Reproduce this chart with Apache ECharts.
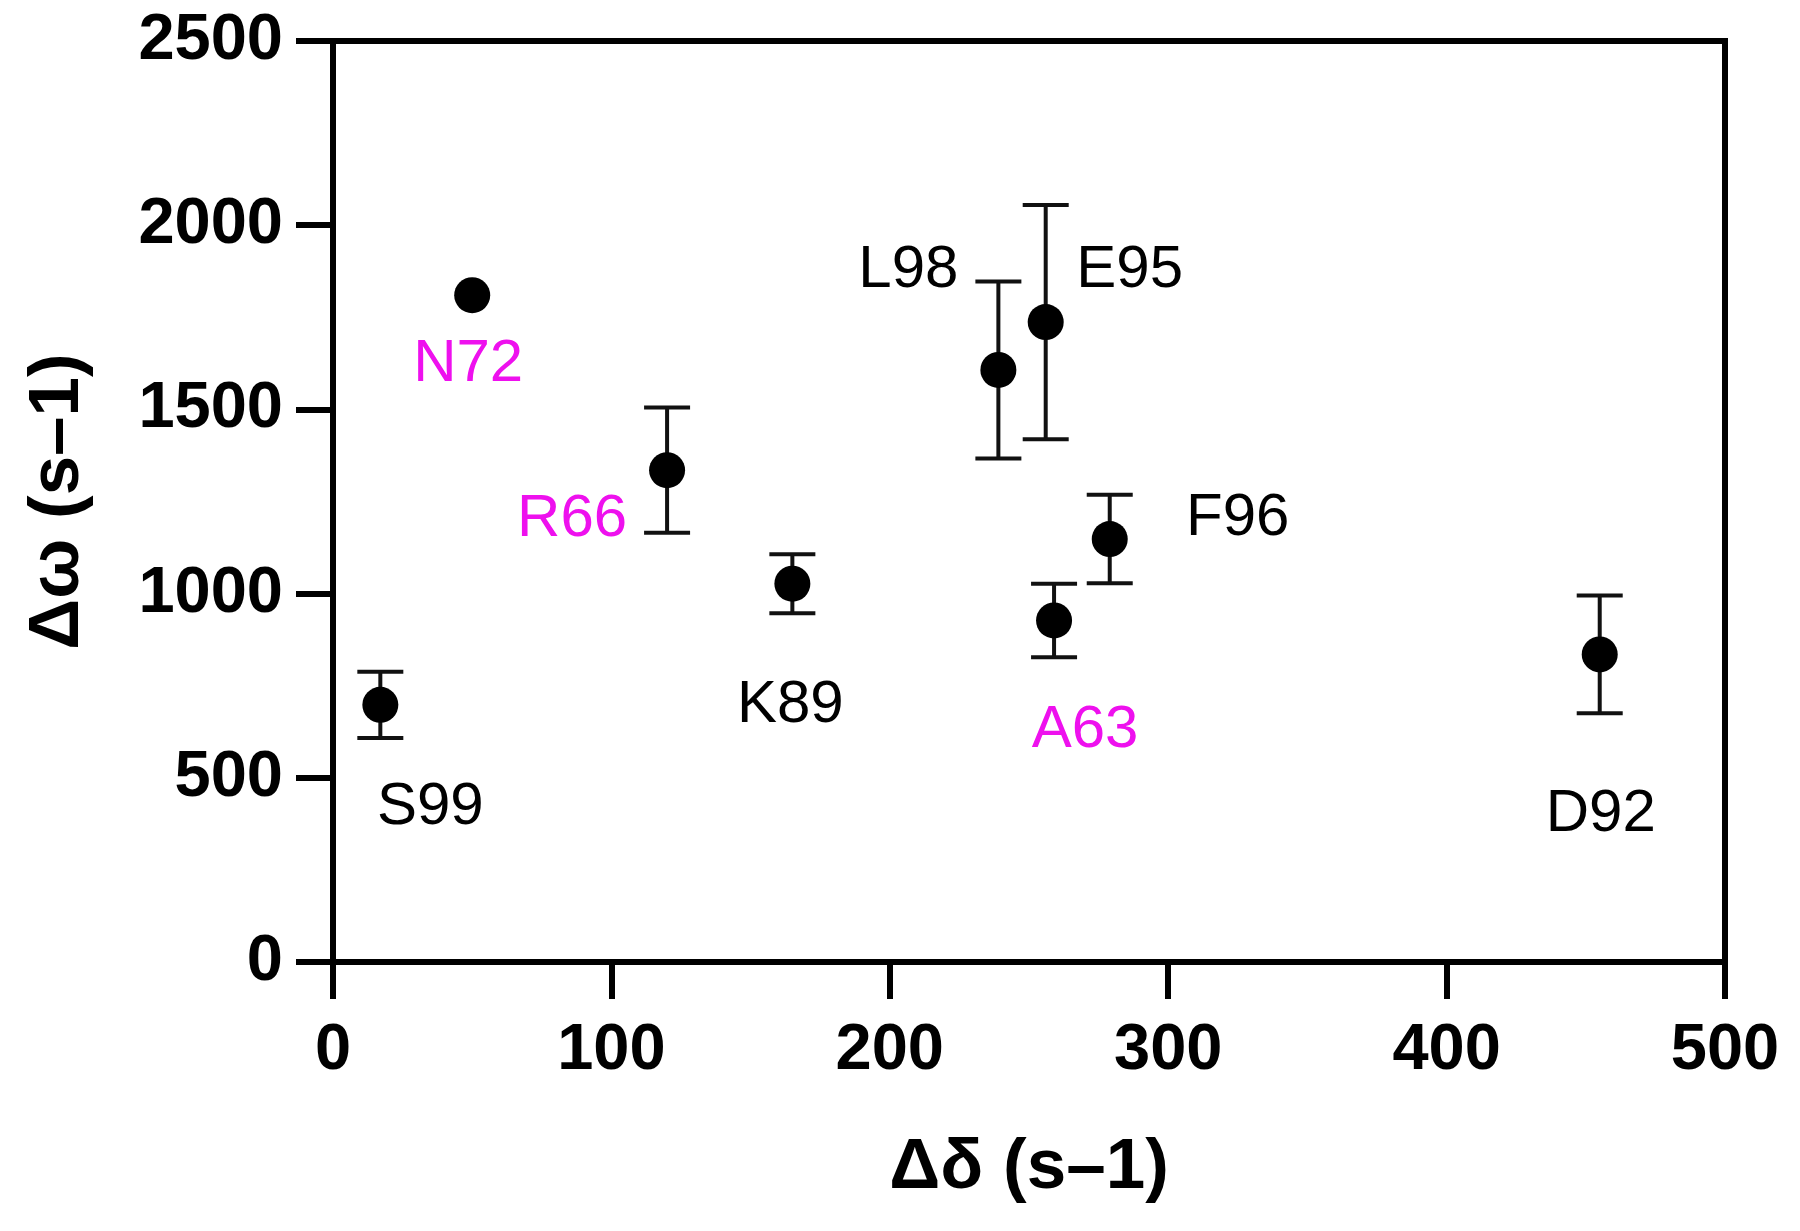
<!DOCTYPE html>
<html>
<head>
<meta charset="utf-8">
<script src="https://cdn.jsdelivr.net/npm/echarts@6/dist/echarts.min.js"></script>
<style>
html,body{margin:0;padding:0;background:#fff;}
#chart{width:1800px;height:1231px;}
</style>
</head>
<body>
<div id="chart"></div>
<script>
// ---- data ----
const residues = ['S99','N72','R66','K89','L98','E95','F96','A63','D92'];
const deltaDelta = [17, 50, 120, 165, 239, 256, 279, 259, 455];      // Δδ (s–1)
const deltaOmega = [698, 1810, 1335, 1027, 1607, 1737, 1148, 927, 835]; // Δω (s–1)
const omegaErr   = [90, 0, 170, 80, 240, 318, 120, 100, 160];
const highlighted = ['N72','R66','A63'];
const xTicks = [0, 100, 200, 300, 400, 500];
const yTicks = [0, 500, 1000, 1500, 2000, 2500];

// label placement (pixel offsets from each marker), layout only
const labelOffsets = {
  S99:[50,103], N72:[-4,69], R66:[-95,49], K89:[-2,122], L98:[-90,-100],
  E95:[84,-52], F96:[128,-21], A63:[31,110], D92:[1,160]
};

const MAGENTA = '#ee10ee';
const FONT = '"Liberation Sans", Arial, Helvetica, sans-serif';

const points = residues.map((r, i) => ({
  name: r,
  value: [deltaDelta[i], deltaOmega[i]],
  label: {
    show: true,
    formatter: r,
    position: 'inside',
    offset: labelOffsets[r],
    color: highlighted.includes(r) ? MAGENTA : '#000',
    opacity: 1,
    fontSize: 60,
    fontFamily: FONT
  }
}));

const errData = residues.map((r, i) => [deltaDelta[i], deltaOmega[i] - omegaErr[i], deltaOmega[i] + omegaErr[i]]);

const chart = echarts.init(document.getElementById('chart'), null, {renderer: 'canvas'});
const AXW = 6;
const axisStyle = {lineStyle: {color: '#000', width: AXW}};
const plain = v => String(v);
chart.setOption({
  animation: false,
  backgroundColor: '#fff',
  grid: {left: 333, right: 75, top: 41, bottom: 269, show: false},
  xAxis: {
    type: 'value', min: xTicks[0], max: xTicks[xTicks.length-1], interval: 100,
    name: 'Δδ (s–1)', nameLocation: 'middle', nameGap: 171,
    nameTextStyle: {fontSize: 71, fontWeight: 'bold', fontFamily: FONT, color: '#000'},
    axisLine: {show: true, onZero: false, ...axisStyle},
    axisTick: {show: true, length: 37, lineStyle: {color: '#000', width: AXW}},
    axisLabel: {margin: 57, fontSize: 65, fontWeight: 'bold', fontFamily: FONT, color: '#000', formatter: plain},
    splitLine: {show: false}
  },
  yAxis: {
    type: 'value', min: yTicks[0], max: yTicks[yTicks.length-1], interval: 500,
    name: 'Δω (s–1)', nameLocation: 'middle', nameGap: 239,
    nameTextStyle: {fontSize: 71, fontWeight: 'bold', fontFamily: FONT, color: '#000'},
    axisLine: {show: true, onZero: false, ...axisStyle},
    axisTick: {show: true, length: 37, lineStyle: {color: '#000', width: AXW}},
    axisLabel: {margin: 50, fontSize: 65, fontWeight: 'bold', fontFamily: FONT, color: '#000', formatter: plain},
    splitLine: {show: false}
  },
  series: [
    {
      // top and right frame lines
      type: 'custom',
      silent: true,
      data: [[xTicks[xTicks.length-1], yTicks[yTicks.length-1]]],
      renderItem: function (params, api) {
        const tr = api.coord([xTicks[xTicks.length-1], yTicks[yTicks.length-1]]);
        const tl = api.coord([xTicks[0], yTicks[yTicks.length-1]]);
        const br = api.coord([xTicks[xTicks.length-1], yTicks[0]]);
        return {
          type: 'group',
          children: [
            {type: 'line', shape: {x1: tl[0]-37, y1: tl[1], x2: tr[0]+AXW/2, y2: tr[1]}, style: {stroke: '#000', lineWidth: AXW}},
            {type: 'line', shape: {x1: tr[0], y1: tr[1], x2: br[0], y2: br[1]+37}, style: {stroke: '#000', lineWidth: AXW}}
          ]
        };
      },
      z: 1
    },
    {
      type: 'custom',
      data: errData,
      renderItem: function (params, api) {
        const x = api.value(0), lo = api.value(1), hi = api.value(2);
        if (hi - lo <= 0) return null;
        const p1 = api.coord([x, lo]);
        const p2 = api.coord([x, hi]);
        const half = 23;
        const st = {stroke: '#111', lineWidth: 4};
        return {
          type: 'group',
          children: [
            {type: 'line', shape: {x1: p1[0], y1: p1[1], x2: p2[0], y2: p2[1]}, style: st},
            {type: 'line', shape: {x1: p1[0]-half, y1: p1[1], x2: p1[0]+half, y2: p1[1]}, style: st},
            {type: 'line', shape: {x1: p2[0]-half, y1: p2[1], x2: p2[0]+half, y2: p2[1]}, style: st}
          ]
        };
      },
      z: 2
    },
    {
      type: 'scatter',
      data: points,
      symbol: 'circle',
      symbolSize: 36,
      itemStyle: {color: '#000', opacity: 1},
      z: 3
    }
  ]
});
</script>
</body>
</html>
